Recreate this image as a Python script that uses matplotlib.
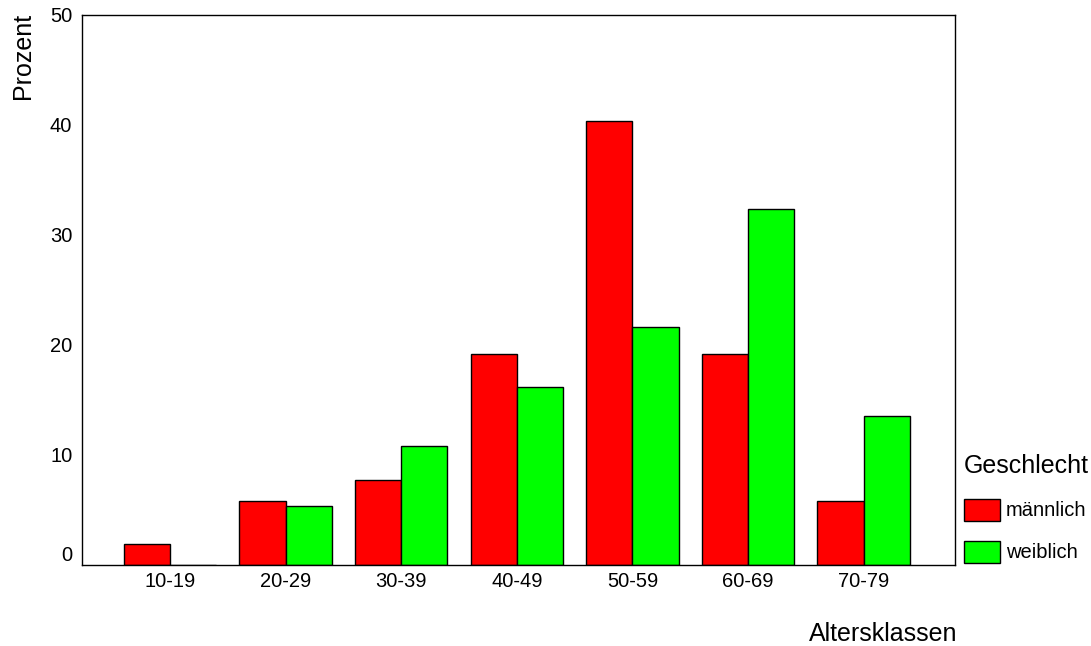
import matplotlib.pyplot as plt
import numpy as np

plt.rcParams['font.family'] = ['Liberation Sans', 'DejaVu Sans']

klassen = ["10-19", "20-29", "30-39", "40-49", "50-59", "60-69", "70-79"]
maennlich = [1.9, 5.8, 7.7, 19.2, 40.4, 19.2, 5.8]
weiblich = [0.0, 5.4, 10.8, 16.2, 21.6, 32.4, 13.5]

fig = plt.figure(figsize=(10.91, 6.46), dpi=100)
ax = fig.add_axes([0.0752, 0.1254, 0.8001, 0.8514])

x = np.arange(len(klassen))
w = 0.4
ax.bar(x - w / 2, maennlich, w, color="#ff0000", edgecolor="black", linewidth=1, label="männlich")
ax.bar(x + w / 2, weiblich, w, color="#00ff00", edgecolor="black", linewidth=1, label="weiblich")

ax.set_xlim(-0.76, 6.79)
ax.set_ylim(0, 50)
ax.set_yticks([0, 10, 20, 30, 40, 50])
ax.set_xticks(x)
ax.set_xticklabels(klassen)
ax.tick_params(length=0, labelsize=14.5)
ax.tick_params(axis='x', pad=5)
ax.tick_params(axis='y', pad=7)
ax.get_yticklabels()[0].set_verticalalignment("bottom")
for s in ax.spines.values():
    s.set_linewidth(1)

fig.text(0.0214, 0.98, "Prozent", rotation=90, ha="center", va="top", fontsize=18)
fig.text(0.878, 0.0077, "Altersklassen", ha="right", va="baseline", fontsize=18)

leg = fig.legend(*ax.get_legend_handles_labels(), title="Geschlecht",
                 loc="upper left", bbox_to_anchor=(0.8836, 0.2965),
                 frameon=False, fontsize=14.5, title_fontsize=18,
                 handlelength=1.79, handleheight=1.3, labelspacing=1.0,
                 handletextpad=0.3, borderpad=0, borderaxespad=0)
leg._legend_box.align = "left"

fig.savefig("out.png", dpi=100)
